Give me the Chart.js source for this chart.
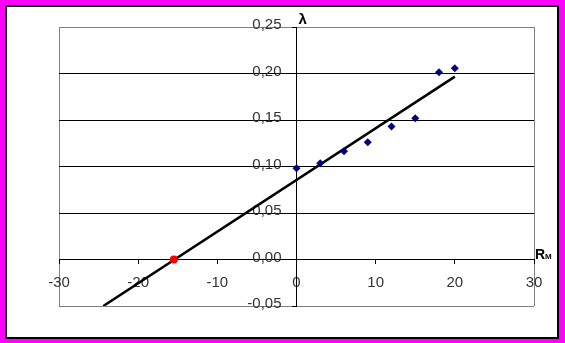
<!DOCTYPE html>
<html>
<head>
<meta charset="utf-8">
<script src="https://cdn.jsdelivr.net/npm/chart.js@4"></script>
<style>
  html, body { margin: 0; padding: 0; background: #ff00ff; }
  #frame { position: absolute; left: 5px; top: 5px; width: 550px; height: 330px; background: #fff; border: 2px solid #000; }
  #wrap { position: absolute; left: 0; top: 0; width: 565px; height: 343px; }
</style>
</head>
<body>
<div id="frame"></div>
<div id="wrap"><canvas id="chart" width="565" height="343"></canvas></div>
<script>
// measured points: R_M vs lambda
const rmValues = [0, 3, 6, 9, 12, 15, 18, 20];
const lambdaValues = [0.098, 0.1035, 0.1163, 0.126, 0.143, 0.152, 0.2013, 0.2056];

// extrapolated intercept with lambda = 0 (red)
const zeroRm = [-15.5];
const zeroLambda = [0];

// trend line end points
const fitRm = [-24.4, 20];
const fitLambda = [-0.05, 0.1966];

// axis limits
const xMin = -30, xMax = 30, xStep = 10;
const yMin = -0.05, yMax = 0.25, yStep = 0.05;

const toPoints = (xs, ys) => xs.map((x, i) => ({ x: x, y: ys[i] }));
const isEdge = (v, a, b) => Math.abs(v - a) < 1e-9 || Math.abs(v - b) < 1e-9;

const FONT = 'Liberation Sans, Arial, sans-serif';

// axis titles lambda and R_M
const axisTitles = {
    id: 'axisTitles',
    afterDraw(chart) {
        const ctx = chart.ctx;
        const xs = chart.scales.x, ys = chart.scales.y;
        const x0 = xs.getPixelForValue(0);
        const y0 = ys.getPixelForValue(0);
        ctx.save();
        ctx.fillStyle = '#000';
        ctx.textBaseline = 'alphabetic';
        ctx.textAlign = 'left';
        ctx.font = 'bold 15px ' + FONT;
        ctx.fillText('λ', x0 + 2, chart.chartArea.top - 3);
        ctx.font = 'bold 14px ' + FONT;
        ctx.fillText('R', chart.chartArea.right + 1, y0 - 1);
        ctx.font = 'bold 8px ' + FONT;
        ctx.fillText('M', chart.chartArea.right + 11, y0 - 1);
        ctx.restore();
    }
};

new Chart(document.getElementById('chart'), {
    type: 'scatter',
    data: {
        datasets: [
            {
                label: 'lambda',
                data: toPoints(rmValues, lambdaValues),
                pointStyle: 'rectRot',
                pointRadius: 4,
                backgroundColor: '#000080',
                borderColor: '#000080',
                borderWidth: 0,
                order: 1
            },
            {
                label: 'zero',
                data: toPoints(zeroRm, zeroLambda),
                pointStyle: 'circle',
                pointRadius: 4,
                backgroundColor: '#ff0000',
                borderColor: '#ff0000',
                borderWidth: 0,
                order: 0
            },
            {
                label: 'fit',
                data: toPoints(fitRm, fitLambda),
                showLine: true,
                borderColor: '#000',
                borderWidth: 2.5,
                pointRadius: 0,
                order: 2
            }
        ]
    },
    options: {
        responsive: false,
        animation: false,
        layout: { padding: { left: 59, top: 27, right: 31, bottom: 37 } },
        plugins: { legend: { display: false }, tooltip: { enabled: false } },
        scales: {
            x: {
                type: 'linear',
                position: { y: 0 },
                min: xMin, max: xMax,
                ticks: {
                    stepSize: xStep,
                    color: '#333',
                    font: { family: FONT, size: 15 },
                    padding: 10,
                    maxRotation: 0
                },
                grid: {
                    color: ctx => isEdge(ctx.tick.value, xMin, xMax) ? '#808080' : 'rgba(0,0,0,0)',
                    tickColor: '#000',
                    tickLength: 4,
                    lineWidth: 1
                },
                border: { color: '#000', width: 1 }
            },
            y: {
                type: 'linear',
                position: { x: 0 },
                min: yMin, max: yMax,
                ticks: {
                    stepSize: yStep,
                    color: '#333',
                    font: { family: FONT, size: 15 },
                    labelOffset: -2,
                    // labels of a crossing axis sit right on it, so keep a gap with an em space
                    callback: v => (Math.abs(v) < 1e-9 ? 0 : v).toFixed(2).replace('.', ',') + '\u2003'
                },
                grid: {
                    color: ctx => isEdge(ctx.tick.value, yMin, yMax) ? '#808080' : '#000',
                    tickColor: '#000',
                    tickLength: 4,
                    lineWidth: 1
                },
                border: { color: '#000', width: 1 }
            }
        }
    },
    plugins: [axisTitles]
});
</script>
</body>
</html>
